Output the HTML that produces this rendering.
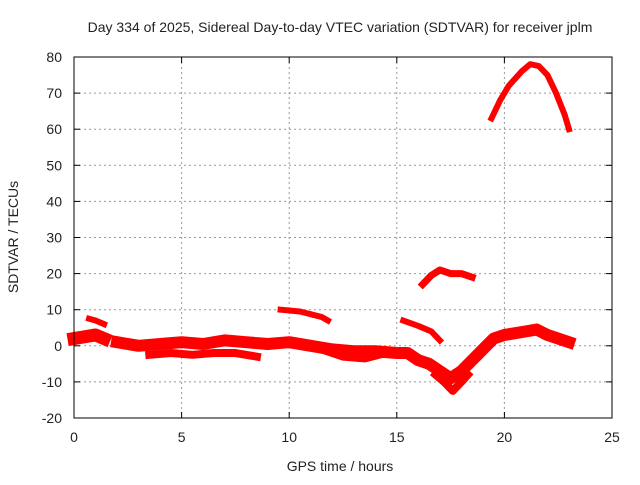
<!DOCTYPE html>
<html><head><meta charset="utf-8"><style>
body{margin:0;background:#fff}
svg text{font-family:"Liberation Sans",sans-serif;font-size:14px;fill:#222}
</style></head><body>
<svg id="c" width="640" height="480" xmlns="http://www.w3.org/2000/svg">
<rect width="640" height="480" fill="#fff"/>
<g id="grid"></g>
<g id="data"></g>
<rect x="74" y="57" width="538" height="361" fill="none" stroke="#000" stroke-width="1"/>
<g id="ticks"></g>
<text x="340" y="32" text-anchor="middle">Day 334 of 2025, Sidereal Day-to-day VTEC variation (SDTVAR) for receiver jplm</text>
<text x="340" y="471" text-anchor="middle">GPS time / hours</text>
<text x="18" y="237" text-anchor="middle" transform="rotate(-90 18 237)">SDTVAR / TECUs</text>
</svg>
<script>
const xTicks=[0,5,10,15,20,25];
const yTicks=[-20,-10,0,10,20,30,40,50,60,70,80];
const seriesA=[[0,2],[0.5,2.5],[1,3],[1.4,2]];
const seriesB=[[0.7,7.5],[1.0,7],[1.4,6]];
const seriesMain=[[2,1],[3,0],[4,0.5],[5,1],[6,0.5],[7,1.5],[8,1],[9,0.5],[10,1],[11,0],[12,-1],[13,-1.5],[14,-1.5],[15,-2],[15.5,-2],[16,-4],[16.5,-5],[17,-7],[17.5,-9],[18,-7],[18.5,-4],[19,-1],[19.5,2],[20,3],[21,4],[21.5,4.5],[22,3],[22.5,2],[23,1]];
const seriesLow1=[[3.5,-2.5],[4.5,-2],[5.5,-2.5],[6.5,-2],[7.5,-2],[8.5,-3]];
const seriesLow2=[[11.5,-1],[12.5,-3],[13.5,-3.5],[14.5,-2]];
const seriesDip=[[16.8,-8],[17.2,-10],[17.6,-12.5],[18,-10],[18.3,-8]];
const seriesD=[[9.6,10],[10.5,9.5],[11.5,8],[11.8,7]];
const seriesE=[[15.3,7],[16,5.5],[16.6,4],[17,1.5]];
const seriesF=[[16.2,17],[16.6,19.5],[17,21],[17.5,20],[18,20],[18.5,19]];
const seriesG=[[19.4,63],[19.8,68],[20.2,72],[20.8,76],[21.2,78],[21.6,77.5],[22,75],[22.4,70],[22.8,64],[23,60]];
const X=v=>74+v*538/25, Y=v=>418-(v+20)*361/100;
const NS="http://www.w3.org/2000/svg";
const g=document.getElementById('grid'),t=document.getElementById('ticks'),d=document.getElementById('data');
function mk(tag,attrs,parent){const e=document.createElementNS(NS,tag);for(const k in attrs)e.setAttribute(k,attrs[k]);parent.appendChild(e);return e;}
xTicks.forEach(v=>{
  if(v>0&&v<25){const l=mk('line',{x1:X(v),x2:X(v),y1:57,y2:418,stroke:'#999','stroke-dasharray':'2,3'},g);
  
  }
  mk('line',{x1:X(v),x2:X(v),y1:418,y2:412,stroke:'#000'},t);
  mk('line',{x1:X(v),x2:X(v),y1:57,y2:63,stroke:'#000'},t);
  const tx=mk('text',{x:X(v),y:442,'text-anchor':'middle'},t);tx.textContent=v;
  
  
});
yTicks.forEach(v=>{
  if(v>-20&&v<80){const l=mk('line',{x1:74,x2:612,y1:Y(v),y2:Y(v),stroke:'#999','stroke-dasharray':'2,3'},g);
  
  }
  mk('line',{x1:74,x2:80,y1:Y(v),y2:Y(v),stroke:'#000'},t);
  mk('line',{x1:612,x2:606,y1:Y(v),y2:Y(v),stroke:'#000'},t);
  const tx=mk('text',{x:62,y:Y(v)+5,'text-anchor':'end'},t);tx.textContent=v;
  
  
});
function draw(s,w,name){
  const p=mk('polyline',{points:s.map(q=>X(q[0])+','+Y(q[1])).join(' '),fill:'none',stroke:'#f00','stroke-width':w,'stroke-linejoin':'round','stroke-linecap':'square'},d);
  
  
}
draw(seriesA,13,'series-a');
draw(seriesB,6,'series-b');
draw(seriesMain,12,'series-main');
draw(seriesLow1,8,'series-low-1');
draw(seriesLow2,8,'series-low-2');
draw(seriesDip,8,'series-dip');
draw(seriesD,6,'series-d');
draw(seriesE,6,'series-e');
draw(seriesF,7,'series-f');
draw(seriesG,6,'series-g');
</script>
</body></html>
